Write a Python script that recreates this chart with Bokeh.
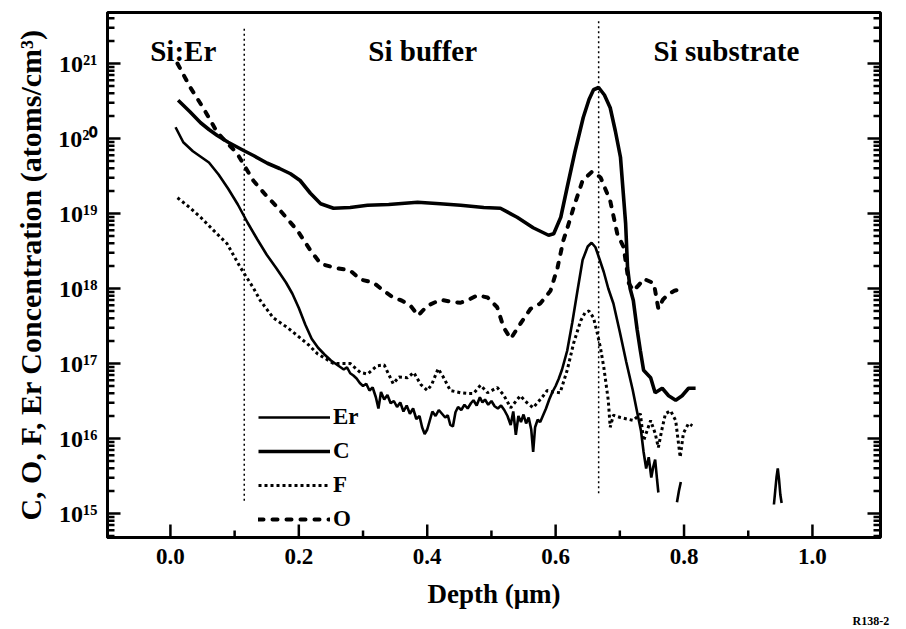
import math
from bokeh.plotting import figure
from bokeh.models import (Range1d, FixedTicker, Legend, LegendItem, Label, Title)
from bokeh.embed import file_html
from bokeh.resources import INLINE

NaN = float("nan")

# ---------------- data (depth in um, log10 of concentration in atoms/cm^3) ----
er_depth = [0.008, 0.02, 0.035, 0.05, 0.06, 0.075, 0.09, 0.105, 0.12, 0.135, 0.15, 0.165,
            0.18, 0.19, 0.20, 0.21, 0.22, 0.23, 0.24, 0.25, 0.26, 0.27, 0.275, 0.28, 0.285,
            0.29, 0.295, 0.30, 0.305, 0.31, 0.315, 0.32, 0.324, 0.328, 0.333, 0.338, 0.343,
            0.348, 0.353, 0.358, 0.363, 0.368, 0.373, 0.378, 0.383, 0.388, 0.392, 0.396,
            0.400, 0.404, 0.408, 0.413, 0.418, 0.423, 0.428, 0.432, 0.436, 0.440, 0.444,
            0.448, 0.453, 0.458, 0.463, 0.468, 0.472, 0.477, 0.482, 0.486, 0.490, 0.495,
            0.500, 0.505, 0.510, 0.515, 0.520, 0.525, 0.530, 0.534, 0.538, 0.542, 0.546,
            0.550, 0.554, 0.558, 0.562, 0.565, 0.568, 0.572, 0.576, 0.580, 0.585, 0.590,
            0.595, 0.600, 0.605, 0.610, 0.618, 0.626, 0.634, 0.642, 0.650, 0.656, 0.662,
            0.668, 0.675, 0.682, 0.690, 0.700, 0.710, 0.720, 0.727, 0.733, 0.737, 0.741,
            0.745, 0.749, 0.752, 0.755, 0.758, 0.760, NaN, 0.789, 0.792, 0.795, NaN,
            0.940, 0.942, 0.944, 0.946, 0.948, 0.950, 0.952]
er_log = [20.15, 19.95, 19.83, 19.74, 19.68, 19.52, 19.33, 19.12, 18.88, 18.66, 18.45, 18.27,
          18.08, 17.93, 17.74, 17.52, 17.33, 17.21, 17.12, 17.04, 16.98, 16.92, 16.95, 16.87, 16.84,
          16.80, 16.74, 16.70, 16.73, 16.64, 16.68, 16.55, 16.40, 16.62, 16.52, 16.58, 16.47,
          16.50, 16.42, 16.48, 16.36, 16.44, 16.33, 16.40, 16.26, 16.30, 16.15, 16.06,
          16.12, 16.24, 16.36, 16.30, 16.38, 16.33, 16.28, 16.31, 16.18, 16.16, 16.35,
          16.42, 16.38, 16.45, 16.40, 16.47, 16.51, 16.44, 16.55, 16.48, 16.52, 16.45,
          16.50, 16.43, 16.40, 16.44, 16.38, 16.30, 16.18, 16.36, 16.05, 16.30, 16.22,
          16.32, 16.20, 16.28, 16.12, 15.82, 16.15, 16.25, 16.22, 16.30, 16.40, 16.52,
          16.62, 16.70, 16.80, 16.92, 17.17, 17.55, 17.97, 18.38, 18.56, 18.61, 18.55,
          18.40, 18.22, 18.00, 17.80, 17.42, 17.02, 16.65, 16.35, 16.10, 15.82, 15.60,
          15.75, 15.48, 15.62, 15.72, 15.45, 15.28, NaN, 15.15, 15.30, 15.42, NaN,
          15.12, 15.30, 15.48, 15.60, 15.45, 15.25, 15.14]

c_depth = [0.012, 0.03, 0.047, 0.06, 0.073, 0.09, 0.114, 0.13, 0.151, 0.17, 0.187, 0.202,
           0.218, 0.234, 0.254, 0.28, 0.307, 0.34, 0.385, 0.42, 0.452, 0.488, 0.514, 0.54,
           0.565, 0.589, 0.597, 0.608, 0.618, 0.63, 0.643, 0.652, 0.659, 0.667, 0.676,
           0.685, 0.693, 0.701, 0.709, 0.712, 0.716, 0.721, 0.727, 0.732, 0.737, 0.748,
           0.755, 0.766, 0.776, 0.787, 0.797, 0.807, 0.818]
c_log = [20.51, 20.36, 20.21, 20.12, 20.04, 19.95, 19.84, 19.77, 19.67, 19.60, 19.53, 19.44,
         19.27, 19.13, 19.07, 19.08, 19.11, 19.12, 19.15, 19.13, 19.11, 19.08, 19.07, 18.95,
         18.81, 18.71, 18.73, 18.95, 19.35, 19.82, 20.28, 20.52, 20.65, 20.68, 20.58,
         20.41, 20.10, 19.75, 18.87, 18.28, 18.00, 17.84, 17.45, 17.17, 16.91, 16.81,
         16.61, 16.67, 16.57, 16.51, 16.57, 16.67, 16.67]

f_depth = [0.011, 0.03, 0.047, 0.07, 0.088, 0.109, 0.129, 0.14, 0.16, 0.182, 0.198, 0.215,
           0.229, 0.254, 0.28, 0.296, 0.307, 0.322, 0.333, 0.347, 0.356, 0.369, 0.379, 0.39,
           0.40, 0.407, 0.417, 0.425, 0.436, 0.452, 0.463, 0.472, 0.483, 0.494, 0.509, 0.519,
           0.53, 0.545, 0.555, 0.565, 0.579, 0.587, 0.597, 0.607, 0.618, 0.628, 0.639, 0.646,
           0.652, 0.659, 0.665, 0.67, 0.675, 0.682, 0.685, 0.69, 0.701, 0.711, 0.721, 0.732,
           0.737, 0.748, 0.755, 0.76, 0.765, 0.771, 0.779, 0.787, 0.794, 0.799, 0.807, 0.813]
f_log = [19.21, 19.08, 18.95, 18.75, 18.60, 18.28, 18.01, 17.84, 17.61, 17.48, 17.37, 17.25,
         17.13, 17.00, 17.00, 16.88, 16.86, 16.97, 16.98, 16.73, 16.82, 16.81, 16.88, 16.72,
         16.64, 16.72, 16.93, 16.82, 16.64, 16.61, 16.60, 16.60, 16.71, 16.61, 16.68, 16.58,
         16.41, 16.57, 16.48, 16.41, 16.55, 16.64, 16.62, 16.61, 16.91, 17.27, 17.57, 17.68,
         17.70, 17.61, 17.40, 17.20, 16.95, 16.51, 16.15, 16.31, 16.28, 16.26, 16.24, 16.33,
         15.97, 16.24, 16.07, 15.88, 16.10, 16.33, 16.37, 16.24, 15.75, 16.07, 16.20, 16.17]

o_depth = [0.011, 0.031, 0.051, 0.073, 0.104, 0.129, 0.148, 0.167, 0.183, 0.198, 0.218, 0.234,
           0.254, 0.28, 0.296, 0.316, 0.332, 0.347, 0.36, 0.374, 0.386, 0.40, 0.421, 0.44,
           0.452, 0.467, 0.478, 0.494, 0.509, 0.519, 0.53, 0.545, 0.561, 0.576, 0.592, 0.603,
           0.612, 0.618, 0.628, 0.642, 0.657, 0.67, 0.685, 0.696, 0.706, 0.714, 0.721, 0.73,
           0.737, 0.745, 0.753, 0.76, 0.767, 0.775, 0.785, 0.80]
o_log = [21.00, 20.68, 20.41, 20.08, 19.80, 19.44, 19.25, 19.08, 18.92, 18.77, 18.51, 18.33,
         18.28, 18.24, 18.12, 18.08, 17.97, 17.88, 17.84, 17.77, 17.64, 17.77, 17.85, 17.82,
         17.81, 17.86, 17.91, 17.88, 17.75, 17.48, 17.33, 17.53, 17.73, 17.80, 17.97, 18.28,
         18.64, 18.80, 19.08, 19.44, 19.56, 19.48, 19.17, 18.73, 18.55, 18.07, 17.97, 18.05,
         18.13, 18.10, 18.07, 17.73, 17.85, 17.92, 17.97, 18.00]

boundary_depth = [0.115, 0.667]
boundary_top_log = [21.50, 21.57]
boundary_bottom_log = [15.17, 15.27]

region_names = ["Si:Er", "Si buffer", "Si substrate"]
region_depth = [0.02, 0.393, 0.866]
region_log = 21.17

x_ticks = [0.0, 0.2, 0.4, 0.6, 0.8, 1.0]
x_tick_labels = ["0.0", "0.2", "0.4", "0.6", "0.8", "1.0"]
x_minor = [0.1, 0.3, 0.5, 0.7, 0.9]
y_exponents = [15, 16, 17, 18, 19, 20, 21]

# ---------------- layout constants ----------------
W, H = 906, 629
BL, BR, BT, BB = 107, 26, 12, 92
X0, X1 = -0.098, 1.106
LY0, LY1 = 14.68, 21.68
FONT = "Liberation Serif"

SUP = str.maketrans("0123456789", "⁰¹²³⁴⁵⁶⁷⁸⁹")
y_ticks = [10.0 ** e for e in y_exponents]
y_tick_labels = {10.0 ** e: "10" + str(e).translate(SUP) for e in y_exponents}
y_minor = [k * 10.0 ** e for e in range(14, 22) for k in range(2, 10)
           if LY0 < math.log10(k * 10.0 ** e) < LY1]


def conc(logs):
    return [10.0 ** v if not math.isnan(v) else NaN for v in logs]


p = figure(width=W, height=H, output_backend="svg", toolbar_location=None,
           y_axis_type="log",
           x_range=Range1d(X0, X1), y_range=Range1d(10 ** LY0, 10 ** LY1),
           min_border_left=BL, min_border_right=BR, min_border_top=BT,
           min_border_bottom=BB)
p.background_fill_color = "white"
p.border_fill_color = "white"
p.grid.visible = False
p.outline_line_color = "black"
p.outline_line_width = 3

# axes (labels only; tick marks drawn inside the frame below)
xa = p.xaxis[0]
xa.ticker = FixedTicker(ticks=x_ticks, minor_ticks=x_minor)
xa.major_label_overrides = {t: l for t, l in zip(x_ticks, x_tick_labels)}
ya = p.yaxis[0]
ya.ticker = FixedTicker(ticks=y_ticks, minor_ticks=y_minor)
ya.major_label_overrides = y_tick_labels

for ax in [xa, ya]:
    ax.axis_line_width = 3
    ax.axis_line_color = "black"
    ax.major_tick_line_color = None
    ax.minor_tick_line_color = None
    ax.major_tick_out = 0
    ax.minor_tick_out = 0
    ax.major_label_text_font = FONT
    ax.major_label_text_font_style = "bold"
    ax.major_label_text_color = "black"
    ax.axis_label_text_font = FONT
    ax.axis_label_text_font_style = "bold"
    ax.axis_label_text_color = "black"

xa.major_label_text_font_size = "23px"
xa.major_label_standoff = 11
xa.axis_label = "Depth (μm)"
xa.axis_label_text_font_size = "27px"
xa.axis_label_standoff = 12

ya.major_label_text_font_size = "24px"
ya.major_label_standoff = 10
ya.axis_label = "C, O, F, Er Concentration (atoms/cm³)"
ya.axis_label_text_font_size = "30px"
ya.axis_label_standoff = 8

p.add_layout(Title(text="R138-2", align="left", offset=852 - BL, standoff=0,
                   text_font=FONT, text_font_style="bold", text_font_size="12px",
                   text_color="black"), "below")

# inward tick marks, computed from the tick lists
dx = (X1 - X0) / (W - BL - BR)           # data units per pixel (x)
dly = (LY1 - LY0) / (H - BT - BB)        # decades per pixel (y)
MAJ, MIN = 13, 7
tx, ty = [], []
for x, ln in [(t, MAJ) for t in x_ticks] + [(t, MIN) for t in x_minor]:
    tx += [x, x, NaN]
    ty += [10 ** LY0, 10 ** (LY0 + ln * dly), NaN]
for edge, sgn in [(X0, 1), (X1, -1)]:
    for y, ln in [(t, MAJ) for t in y_ticks] + [(t, MIN) for t in y_minor]:
        tx += [edge, edge + sgn * ln * dx, NaN]
        ty += [y, y, NaN]
p.line(tx, ty, line_color="black", line_width=2.5)

# boundaries
p.segment(x0=boundary_depth, x1=boundary_depth, y0=conc(boundary_bottom_log),
          y1=conc(boundary_top_log), line_color="black", line_width=1.5,
          line_dash="2 3")

# curves
r_er = p.line(er_depth, conc(er_log), line_color="black", line_width=2.6)
r_c = p.line(c_depth, conc(c_log), line_color="black", line_width=3.6)
r_f = p.line(f_depth, conc(f_log), line_color="black", line_width=3, line_dash="3 3")
r_o = p.line(o_depth, conc(o_log), line_color="black", line_width=4, line_dash="5 9",
             line_cap="round")

legend = Legend(items=[LegendItem(label="Er", renderers=[r_er]),
                       LegendItem(label="C", renderers=[r_c]),
                       LegendItem(label="F", renderers=[r_f]),
                       LegendItem(label="O", renderers=[r_o])],
                location="bottom_left", padding=0, margin=0, spacing=0,
                glyph_width=72, glyph_height=34, label_height=34, label_standoff=3,
                label_text_font=FONT, label_text_font_style="bold",
                label_text_font_size="23px", label_text_color="black",
                border_line_alpha=0, background_fill_alpha=0)
legend.location = (151, 1)
p.add_layout(legend)

for name, d in zip(region_names, region_depth):
    p.add_layout(Label(x=d, y=10 ** region_log, text=name, text_align="center",
                       text_baseline="middle", text_font=FONT, text_font_style="bold",
                       text_font_size="29px", text_color="black"))

open("out.html", "w").write(file_html(p, INLINE))
